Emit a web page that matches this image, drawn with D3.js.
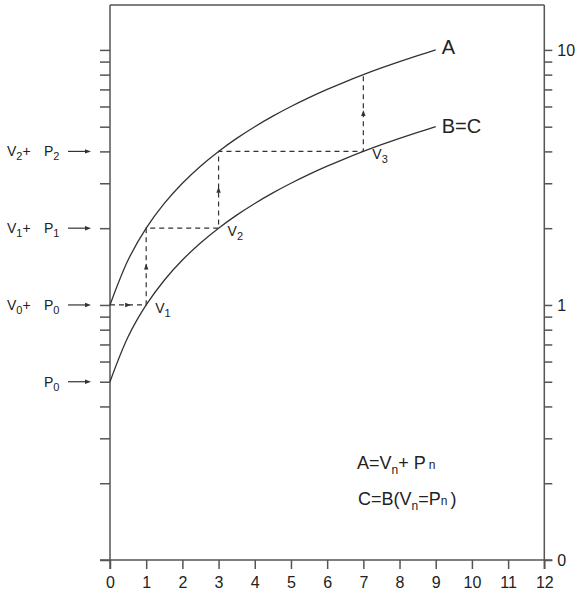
<!DOCTYPE html>
<html>
<head>
<meta charset="utf-8">
<script src="https://cdn.jsdelivr.net/npm/d3@7"></script>
<style>
  body { margin: 0; background: #fff; }
  svg { display: block; }
  text { font-family: "Liberation Sans", Arial, sans-serif; fill: #222; }
</style>
</head>
<body>
<svg id="chart" width="584" height="598"></svg>
<script>
// Horizontal positions and the two curves: A = Vn + Pn, B = C
const xValues = [0, 0.5, 1, 1.5, 2, 2.5, 3, 3.5, 4, 4.5, 5, 5.5, 6, 6.5, 7, 7.5, 8, 8.5, 9];
const curveA  = [1, 1.5, 2, 2.5, 3, 3.5, 4, 4.5, 5, 5.5, 6, 6.5, 7, 7.5, 8, 8.5, 9, 9.5, 10];
const curveB  = [0.5, 0.75, 1, 1.25, 1.5, 1.75, 2, 2.25, 2.5, 2.75, 3, 3.25, 3.5, 3.75, 4, 4.25, 4.5, 4.75, 5];

// Stair-step iteration between the curves
const stepX = [0, 1, 1, 3, 3, 7, 7];
const stepY = [1, 1, 2, 2, 4, 4, 8];

// Labelled points V1..V3 on curve B
const pointX   = [1, 3, 7];
const pointY   = [1, 2, 4];
const pointSub = ["1", "2", "3"];

// Axis ticks
const xTicks = [0, 1, 2, 3, 4, 5, 6, 7, 8, 9, 10, 11, 12];
const yTicks = [0.1, 0.2, 0.3, 0.4, 0.5, 0.6, 0.7, 0.8, 0.9, 1, 2, 3, 4, 5, 6, 7, 8, 9, 10];
const rightTickValues = [0.1, 1, 10];
const rightTickLabels = ["0", "1", "10"];

// Annotations on the left axis
const leftMarkValues = [4, 2, 1, 0.5];
const leftMarkSubs   = ["2", "1", "0", "0"];
const leftMarkHasV   = [true, true, true, false];

const svg = d3.select("#chart");
const ink = "#333";
const frame = "#555";

const x = d3.scaleLinear().domain([0, 12]).range([110, 544.3]);
const y = d3.scaleLog().domain([0.1, 15]).range([560, 5]);

// Frame lines (axes cross slightly at the bottom corners)
svg.append("line").attr("x1", x(0)).attr("x2", x(12)).attr("y1", y(15)).attr("y2", y(15))
  .attr("stroke", frame).attr("stroke-width", 1.5);
svg.append("line").attr("x1", x(0)).attr("x2", x(0)).attr("y1", y(15)).attr("y2", 569)
  .attr("stroke", frame).attr("stroke-width", 1.5);
svg.append("line").attr("x1", x(12)).attr("x2", x(12)).attr("y1", y(15)).attr("y2", 569)
  .attr("stroke", frame).attr("stroke-width", 1.5);
svg.append("line").attr("x1", x(0) - 10).attr("x2", x(12) + 8).attr("y1", y(0.1)).attr("y2", y(0.1))
  .attr("stroke", frame).attr("stroke-width", 1.5);

// Left axis: tick marks only
const leftAxis = svg.append("g").attr("transform", `translate(${x(0)},0)`)
  .call(d3.axisLeft(y).tickValues(yTicks).tickFormat("").tickSize(10).tickSizeOuter(0));
leftAxis.select(".domain").remove();
leftAxis.selectAll("line").attr("stroke", frame).attr("stroke-width", 1.5);

// Right axis: tick marks, labels at 0, 1, 10
const rightAxis = svg.append("g").attr("transform", `translate(${x(12)},0)`)
  .call(d3.axisRight(y).tickValues(yTicks)
    .tickFormat(d => { const i = rightTickValues.indexOf(d); return i >= 0 ? rightTickLabels[i] : ""; })
    .tickSize(8).tickPadding(5).tickSizeOuter(0));
rightAxis.select(".domain").remove();
rightAxis.selectAll("line").attr("stroke", frame).attr("stroke-width", 1.5);
rightAxis.selectAll("text").attr("font-size", 16).attr("fill", ink)
  .attr("font-family", "Liberation Sans, Arial, sans-serif");

// Bottom axis
const bottomAxis = svg.append("g").attr("transform", `translate(0,${y(0.1)})`)
  .call(d3.axisBottom(x).tickValues(xTicks).tickFormat(d3.format("d")).tickSize(9).tickPadding(8).tickSizeOuter(0));
bottomAxis.select(".domain").remove();
bottomAxis.selectAll("line").attr("stroke", frame).attr("stroke-width", 1.5);
bottomAxis.selectAll("text").attr("font-size", 16).attr("fill", ink)
  .attr("font-family", "Liberation Sans, Arial, sans-serif");

// Curves
const line = d3.line().x(d => x(d[0])).y(d => y(d[1])).curve(d3.curveCatmullRom.alpha(0.5));
svg.append("path").datum(xValues.map((v, i) => [v, curveA[i]]))
  .attr("d", line).attr("fill", "none").attr("stroke", ink).attr("stroke-width", 1.3);
svg.append("path").datum(xValues.map((v, i) => [v, curveB[i]]))
  .attr("d", line).attr("fill", "none").attr("stroke", ink).attr("stroke-width", 1.3);

// Curve names
const last = xValues.length - 1;
svg.append("text").attr("x", x(xValues[last]) + 6).attr("y", y(curveA[last]) + 4).attr("font-size", 20).text("A");
svg.append("text").attr("x", x(xValues[last]) + 6).attr("y", y(curveB[last]) + 6).attr("font-size", 20).text("B=C");

// Dashed stair steps
const steps = stepX.map((v, i) => [v, stepY[i]]);
svg.append("path").datum(steps)
  .attr("d", d3.line().x(d => x(d[0])).y(d => y(d[1])))
  .attr("fill", "none").attr("stroke", ink).attr("stroke-width", 1.2).attr("stroke-dasharray", "5,4");

// Small arrowheads along the steps
[0, 1, 3, 5].forEach(i => {
  const a = steps[i], b = steps[i + 1];
  const mx = (x(a[0]) + x(b[0])) / 2, my = (y(a[1]) + y(b[1])) / 2;
  const ang = Math.atan2(y(b[1]) - y(a[1]), x(b[0]) - x(a[0])) * 180 / Math.PI;
  svg.append("path").attr("d", "M3,0 L-3,-2.2 L-3,2.2 Z")
    .attr("transform", `translate(${mx},${my}) rotate(${ang})`).attr("fill", ink);
});

// Point labels V1..V3
pointX.forEach((px, i) => {
  const t = svg.append("text").attr("x", x(px) + 9).attr("y", y(pointY[i]) + 8).attr("font-size", 14);
  t.append("tspan").text("V");
  t.append("tspan").attr("dy", 4).attr("font-size", 11).text(pointSub[i]);
});

// Left-axis annotations with arrows
leftMarkValues.forEach((v, i) => {
  const yy = y(v);
  const t = svg.append("text").attr("y", yy + 5).attr("font-size", 14);
  if (leftMarkHasV[i]) {
    t.attr("x", 7);
    t.append("tspan").text("V");
    t.append("tspan").attr("dy", 4).attr("font-size", 11).text(leftMarkSubs[i]);
    t.append("tspan").attr("dy", -4).text("+");
    t.append("tspan").attr("x", 44).text("P");
  } else {
    t.attr("x", 44);
    t.append("tspan").text("P");
  }
  t.append("tspan").attr("dy", 4).attr("font-size", 11).text(leftMarkSubs[i]);
  svg.append("line").attr("x1", 68).attr("x2", 87).attr("y1", yy).attr("y2", yy)
    .attr("stroke", ink).attr("stroke-width", 1.2);
  svg.append("path").attr("d", `M91,${yy} L85,${yy - 2.2} L85,${yy + 2.2} Z`).attr("fill", ink);
});

// Formula legend
const f1 = svg.append("text").attr("x", 357).attr("y", 469).attr("font-size", 18);
f1.append("tspan").text("A=V");
f1.append("tspan").attr("dy", 5).attr("font-size", 12).text("n");
f1.append("tspan").attr("dy", -5).text("+ P");
f1.append("tspan").attr("dx", 3).attr("font-size", 12).text("n");

const f2 = svg.append("text").attr("x", 358).attr("y", 505).attr("font-size", 18);
f2.append("tspan").text("C=B(V");
f2.append("tspan").attr("dy", 5).attr("font-size", 12).text("n");
f2.append("tspan").attr("dy", -5).text("=P");
f2.append("tspan").attr("font-size", 12).text("n");
f2.append("tspan").attr("dx", 3).text(")");
</script>
</body>
</html>
